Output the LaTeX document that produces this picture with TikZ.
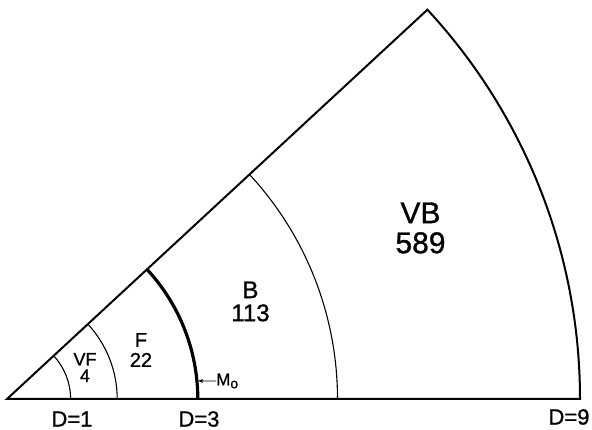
\documentclass[tikz,border=0pt]{standalone}
\usepackage{fontspec}
\setmainfont{Liberation Sans}[FakeBold=1]
\usetikzlibrary{arrows.meta}
\begin{document}
\begin{tikzpicture}[x=1pt,y=1pt,
  outline/.style={line width=2pt, line join=miter},
  thinarc/.style={line width=1.1pt},
  thickarc/.style={line width=3.2pt},
  small/.style={inner sep=0pt, align=center, font=\fontsize{18}{16.5}\selectfont},
  smallb/.style={inner sep=0pt, align=center, font=\fontsize{20}{20}\selectfont},
  mid/.style={inner sep=0pt, align=center, font=\fontsize{24}{23}\selectfont},
  big/.style={inner sep=0pt, align=center, font=\fontsize{30}{30}\selectfont},
  dlbl/.style={inner sep=0pt, font=\fontsize{22}{22}\selectfont},
  mlbl/.style={inner sep=0pt, font=\fontsize{17}{17}\selectfont},
  pointer/.style={line width=0.9pt, -{Stealth[length=5pt,width=4pt]}}]
\useasboundingbox (0,0) rectangle (592,430);
\fill[white] (0,0) rectangle (592,430);
\coordinate (O) at (7,31);
% sector outline (D=9)
\draw[outline] (O) -- ([xshift=573pt]O) arc[start angle=0,end angle=42.8,radius=573] -- cycle;
% inner arcs
\draw[thinarc] ([xshift=63.6pt]O) arc[start angle=0,end angle=42.8,radius=63.6];
\draw[thinarc] ([xshift=110.2pt]O) arc[start angle=0,end angle=42.8,radius=110.2];
\draw[thickarc] ([xshift=190.8pt]O) arc[start angle=0,end angle=42.8,radius=190.8];
\draw[thinarc] ([xshift=330.5pt]O) arc[start angle=0,end angle=42.8,radius=330.5];
% region labels
\node[small] (vf) at (85,62.5) {VF\\4};
\node[smallb] (f) at (141,80) {F\\22};
\node[mid] (b) at (250.5,128.5) {B\\113};
\node[big] (vb) at (420.5,202) {VB\\589};
% axis labels
\node[dlbl] (d1) at (72,11) {D=1};
\node[dlbl] (d3) at (199,11) {D=3};
\node[dlbl] (d9) at (569,13) {D=9};
% M0 pointer
\coordinate (m0pt) at ([shift={(5.4:192)}]O);
\node[mlbl, anchor=west] (m0) at (216,49) {M\raisebox{-3pt}{\fontsize{14}{14}\selectfont o}};
\draw[pointer] (m0.west) -- (m0pt);
\end{tikzpicture}
\end{document}
